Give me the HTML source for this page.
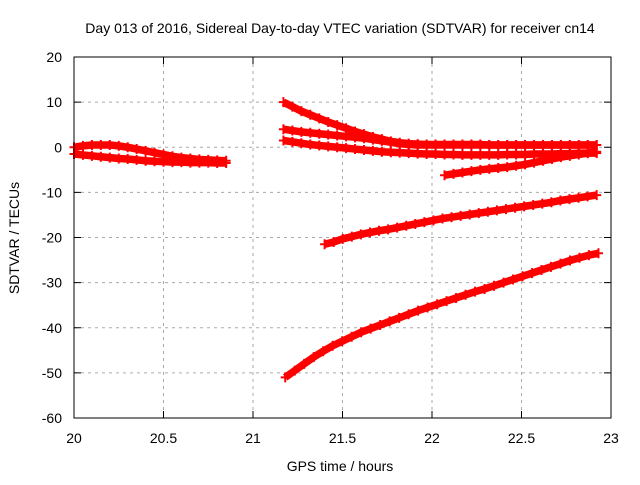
<!DOCTYPE html>
<html><head><meta charset="utf-8"><style>
body{margin:0;background:#fff;}
svg{font-family:"Liberation Sans",sans-serif;font-size:14px;}
</style></head><body>
<svg id="c" width="640" height="480">
<rect width="640" height="480" fill="#fff"/>
<text x="340" y="33" text-anchor="middle">Day 013 of 2016, Sidereal Day-to-day VTEC variation (SDTVAR) for receiver cn14</text>
<text x="340" y="471" text-anchor="middle">GPS time / hours</text>
<text transform="translate(19,238) rotate(-90)" text-anchor="middle">SDTVAR / TECUs</text>
<g id="grid"></g><g id="marks"></g>
<rect x="74" y="57" width="537" height="361" fill="none" stroke="#000"/>
</svg>
<script>
const xTicks=[20,20.5,21,21.5,22,22.5,23];
const xTickLabels=["20","20.5","21","21.5","22","22.5","23"];
const yTicks=[20,10,0,-10,-20,-30,-40,-50,-60];
const yTickLabels=["20","10","0","-10","-20","-30","-40","-50","-60"];
const a1Range=[20.0,20.85];
const a1=[0,0.3,0.5,0.5,0.5,0.3,0,-0.4,-0.8,-1.2,-1.6,-2,-2.3,-2.5,-2.7,-2.8,-2.9,-3];
const a2Range=[20.0,20.85];
const a2=[-1.5,-1.7,-1.9,-2.1,-2.3,-2.5,-2.6,-2.8,-3,-3.1,-3.2,-3.3,-3.3,-3.4,-3.4,-3.4,-3.5,-3.5];
const bRange=[21.17,22.92];
const b=[10,9,8,7.2,6.4,5.6,4.9,4.2,3.5,2.9,2.3,1.8,1.3,1,0.8,0.7,0.6,0.6,0.6,0.6,0.6,0.6,0.6,0.5,0.5,0.5,0.5,0.5,0.5,0.5,0.5,0.5,0.5,0.5,0.5,0.5];
const cRange=[21.17,22.92];
const c=[4,3.7,3.4,3.2,3,2.8,2.6,2.4,2.2,2,1.7,1.4,1.1,0.8,0.6,0.5,0.5,0.5,0.5,0.5,0.5,0.5,0.5,0.5,0.5,0.5,0.5,0.5,0.5,0.5,0.5,0.5,0.5,0.5,0.5,0.5];
const dRange=[21.17,22.92];
const d=[1.5,1.2,0.9,0.6,0.4,0.2,0,-0.2,-0.4,-0.6,-0.8,-1,-1.1,-1.2,-1.3,-1.4,-1.5,-1.5,-1.6,-1.6,-1.7,-1.7,-1.7,-1.7,-1.7,-1.6,-1.6,-1.6,-1.5,-1.5,-1.5,-1.4,-1.4,-1.3,-1.3,-1.3];
const eRange=[22.07,22.92];
const e=[-6.2,-5.9,-5.6,-5.3,-5,-4.8,-4.6,-4.4,-4.1,-3.8,-3.4,-3,-2.6,-2.2,-1.9,-1.6,-1.3,-1];
const fRange=[21.4,22.92];
const f=[-21.5,-21,-20.3,-19.8,-19.3,-18.9,-18.5,-18.2,-17.8,-17.4,-17,-16.6,-16.2,-15.8,-15.5,-15.2,-14.9,-14.6,-14.3,-14,-13.7,-13.4,-13.1,-12.8,-12.5,-12.2,-11.8,-11.5,-11.2,-10.9,-10.6];
const gRange=[21.18,22.93];
const g=[-51,-49.5,-48,-46.5,-45.2,-44,-43,-42,-41,-40.2,-39.4,-38.6,-37.8,-37,-36.2,-35.5,-34.8,-34.1,-33.4,-32.7,-32,-31.4,-30.7,-30,-29.3,-28.6,-27.9,-27.2,-26.5,-25.8,-25.1,-24.5,-23.9,-23.5];
const NS="http://www.w3.org/2000/svg";
const X=v=>74+(v-20)*537/3, Y=v=>57+(20-v)*361/80;
function mk(t,a,p){const el=document.createElementNS(NS,t);for(const k in a)el.setAttribute(k,a[k]);p.appendChild(el);return el;}
const grid=document.getElementById('grid'), marks=document.getElementById('marks'), svg=document.getElementById('c');
xTicks.forEach((v,i)=>{const x=X(v);
 if(i>0&&i<xTicks.length-1){const l=mk('line',{x1:x,x2:x,y1:57,y2:418,stroke:'#aaa','stroke-dasharray':'3,4'},grid);
 
 }
 mk('line',{x1:x,x2:x,y1:418,y2:411,stroke:'#000'},grid);mk('line',{x1:x,x2:x,y1:57,y2:64,stroke:'#000'},grid);
 const t=mk('text',{x:x,y:443,'text-anchor':'middle'},svg);t.textContent=xTickLabels[i];
 
 });
yTicks.forEach((v,i)=>{const y=Y(v);
 if(i>0&&i<yTicks.length-1){const l=mk('line',{x1:74,x2:611,y1:y,y2:y,stroke:'#aaa','stroke-dasharray':'3,4'},grid);
 
 }
 mk('line',{x1:74,x2:81,y1:y,y2:y,stroke:'#000'},grid);mk('line',{x1:611,x2:604,y1:y,y2:y,stroke:'#000'},grid);
 const t=mk('text',{x:62,y:y+5,'text-anchor':'end'},svg);t.textContent=yTickLabels[i];
 
 });
function series(vals,rng,name){
 const gg=mk('g',{},marks);
 
 
 const n=vals.length;const pts=vals.map((v,i)=>[X(rng[0]+i*(rng[1]-rng[0])/(n-1)),Y(v)]);
 mk('polyline',{points:pts.map(p=>p.join(',')).join(' '),fill:'none',stroke:'#f00','stroke-width':7.5},gg);
 pts.forEach(p=>{mk('path',{d:`M${p[0]-4.5},${p[1]}h9M${p[0]},${p[1]-5}v10`,stroke:'#f00','stroke-width':2},gg);});
}
series(a1,a1Range,'series-a1');series(a2,a2Range,'series-a2');
series(b,bRange,'series-b');series(c,cRange,'series-c');series(d,dRange,'series-d');
series(e,eRange,'series-e');series(f,fRange,'series-f');series(g,gRange,'series-g');
</script>
</body></html>
